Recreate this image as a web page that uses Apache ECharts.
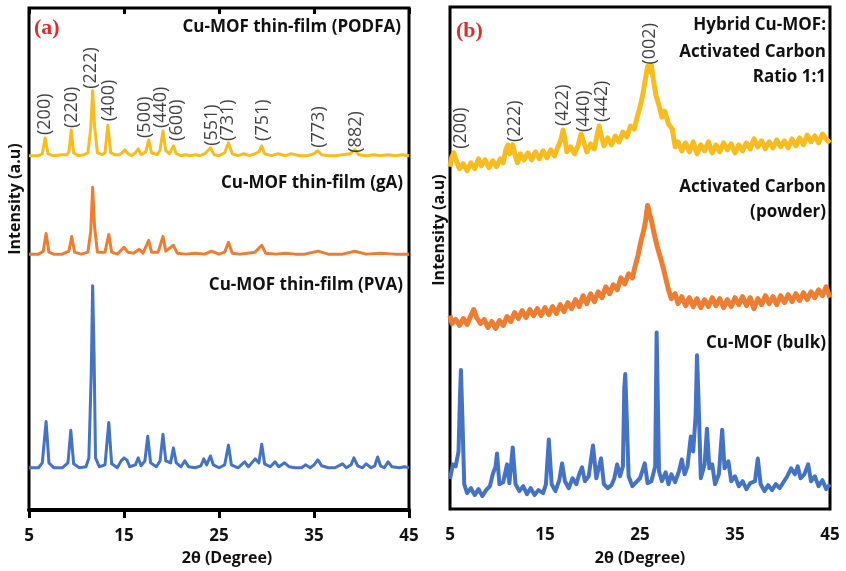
<!DOCTYPE html>
<html><head><meta charset="utf-8">
<script src="https://cdn.jsdelivr.net/npm/echarts@6/dist/echarts.min.js"></script>
<style>html,body{margin:0;padding:0;background:#fff}#c{width:846px;height:571px}</style>
</head><body><div id="c"></div>
<script>
// 2θ tick labels
const xTicks = [5, 15, 25, 35, 45];

// Panel (a): stacked thin-film patterns [2θ, intensity (a.u., offset-stacked)]
const podfa = [[5.0,360],[6.0,360],[6.4,362],[6.7,378],[7.0,362],[7.5,360],[8.5,361],[9.0,361],[9.2,364],[9.45,386],[9.7,363],[10.2,360],[10.8,361],[11.2,363],[11.5,388],[11.7,426],[11.9,390],[12.2,363],[12.7,361],[13.0,363],[13.3,391],[13.6,363],[14.0,361],[14.5,361],[14.8,363],[15.1,366],[15.4,362],[15.8,360],[16.2,363],[16.5,367],[16.8,361],[17.3,364],[17.6,376],[17.9,363],[18.5,361],[18.8,366],[19.1,385],[19.4,365],[19.8,362],[20.2,370],[20.5,362],[21.0,360],[21.5,361],[22.0,360],[22.5,361],[23.0,360],[23.5,362],[24.1,368],[24.5,361],[25.0,360],[25.6,363],[26.0,373],[26.4,362],[27.0,360],[27.6,362],[28.2,360],[28.8,362],[29.2,364],[29.5,370],[29.8,362],[30.5,360],[31.2,362],[32.0,360],[32.6,362],[33.5,360],[34.3,360],[35.0,362],[35.4,365],[35.8,361],[36.5,360],[37.2,360],[38.0,361],[38.8,362],[39.3,366],[39.7,361],[40.5,360],[41.3,361],[42.0,360],[42.8,361],[43.6,360],[44.3,361],[45.0,360]];
const gA = [[5.0,260],[6.0,260],[6.5,263],[6.8,281],[7.1,262],[7.6,260],[8.5,260],[9.2,263],[9.5,278],[9.8,262],[10.5,260],[11.2,262],[11.5,283],[11.7,328],[11.9,288],[12.2,262],[13.0,262],[13.4,280],[13.7,262],[14.3,260],[15.0,267],[15.4,262],[16.0,261],[16.6,265],[17.0,261],[17.6,274],[17.9,262],[18.6,262],[19.1,278],[19.4,263],[20.2,269],[20.6,261],[21.5,260],[22.5,261],[23.5,260],[24.2,263],[25.0,260],[25.6,262],[26.0,272],[26.4,261],[27.2,260],[28.0,261],[28.8,262],[29.5,269],[29.9,261],[31.0,260],[32.0,261],[33.0,260],[34.0,260],[35.4,263],[36.5,260],[38.0,260],[39.3,263],[40.5,260],[42.0,261],[43.5,260],[45.0,260]];
const pva = [[5.0,43],[6.0,43],[6.4,48],[6.8,90],[7.1,48],[7.6,43],[8.5,43],[9.1,48],[9.4,81],[9.7,47],[10.3,43],[11.0,44],[11.3,53],[11.55,138],[11.7,228],[11.85,158],[12.0,53],[12.4,44],[13.0,46],[13.4,89],[13.7,47],[14.3,43],[14.7,50],[15.0,53],[15.3,51],[15.6,44],[16.2,46],[16.5,53],[16.8,45],[17.2,50],[17.5,75],[17.8,48],[18.4,44],[18.8,50],[19.1,77],[19.4,50],[19.9,48],[20.2,63],[20.5,48],[21.0,44],[21.4,50],[21.8,44],[22.5,43],[23.1,45],[23.4,52],[23.7,46],[24.1,55],[24.4,46],[25.0,43],[25.6,46],[26.0,66],[26.3,46],[27.0,43],[27.7,49],[28.1,44],[28.8,52],[29.2,48],[29.5,67],[29.8,47],[30.4,44],[30.9,49],[31.3,44],[31.9,48],[32.4,44],[33.0,43],[33.7,43],[34.1,46],[34.6,43],[35.0,46],[35.4,51],[35.8,45],[36.5,43],[37.2,43],[38.0,47],[38.4,43],[38.9,46],[39.2,53],[39.6,45],[40.1,43],[40.5,47],[41.0,43],[41.4,45],[41.7,54],[42.0,45],[42.4,43],[42.8,49],[43.2,44],[44.0,43],[44.5,44],[45.0,43]];

// Panel (b)
const hybrid = [[5.0,345],[5.2,355],[5.4,359],[5.7,350],[6.0,343],[6.4,348],[6.8,341],[7.2,349],[7.6,343],[8.0,353],[8.3,346],[8.7,352],[9.1,344],[9.5,351],[9.9,345],[10.3,353],[10.6,349],[10.9,363],[11.1,367],[11.3,358],[11.6,367],[11.9,355],[12.1,349],[12.4,358],[12.8,352],[13.2,359],[13.6,352],[14.0,360],[14.4,353],[14.8,361],[15.2,354],[15.6,362],[16.0,356],[16.4,366],[16.7,373],[16.9,382],[17.1,373],[17.3,360],[17.7,365],[18.1,358],[18.5,367],[18.8,378],[19.1,369],[19.4,360],[19.8,368],[20.2,363],[20.5,378],[20.7,386],[20.9,377],[21.2,366],[21.6,374],[22.0,367],[22.4,376],[22.8,370],[23.2,380],[23.6,375],[24.0,386],[24.4,383],[24.7,395],[25.0,405],[25.3,418],[25.6,435],[25.8,446],[26.0,441],[26.2,447],[26.4,433],[26.7,416],[27.0,407],[27.3,395],[27.6,401],[28.0,388],[28.4,383],[28.7,365],[29.0,370],[29.4,361],[29.8,369],[30.2,360],[30.6,370],[31.0,358],[31.4,367],[31.8,361],[32.2,370],[32.6,359],[33.0,367],[33.4,360],[33.8,369],[34.2,362],[34.6,368],[35.0,359],[35.4,367],[35.8,361],[36.2,369],[36.6,363],[37.0,373],[37.4,365],[37.8,371],[38.2,363],[38.6,370],[39.0,364],[39.4,372],[39.8,365],[40.2,371],[40.6,364],[41.0,373],[41.4,366],[41.8,374],[42.2,367],[42.6,377],[43.0,370],[43.4,376],[43.8,369],[44.2,378],[44.6,373],[45.0,369]];
const carbon = [[5.0,195],[5.2,187],[5.6,191],[6.0,185],[6.4,192],[6.8,186],[7.2,195],[7.5,201],[7.8,193],[8.2,187],[8.6,191],[9.0,183],[9.4,189],[9.8,182],[10.2,190],[10.6,185],[11.0,194],[11.4,189],[11.8,198],[12.2,192],[12.6,200],[13.0,193],[13.4,201],[13.8,195],[14.2,202],[14.6,195],[15.0,203],[15.4,196],[15.8,204],[16.2,197],[16.6,206],[17.0,199],[17.4,208],[17.8,202],[18.2,211],[18.6,204],[19.0,215],[19.4,207],[19.8,217],[20.2,209],[20.6,219],[21.0,213],[21.4,224],[21.8,217],[22.2,226],[22.6,221],[23.0,233],[23.4,227],[23.8,237],[24.2,233],[24.5,245],[24.8,256],[25.1,270],[25.4,281],[25.6,291],[25.8,306],[26.0,298],[26.2,291],[26.5,277],[26.8,265],[27.1,255],[27.4,245],[27.7,233],[28.0,221],[28.3,212],[28.7,217],[29.0,207],[29.4,214],[29.8,205],[30.2,213],[30.6,204],[31.0,212],[31.4,203],[31.8,211],[32.2,204],[32.6,213],[33.0,205],[33.4,212],[33.8,203],[34.2,211],[34.6,204],[35.0,213],[35.4,206],[35.8,214],[36.2,205],[36.6,213],[37.0,202],[37.4,212],[37.8,206],[38.2,215],[38.6,207],[39.0,214],[39.4,206],[39.8,215],[40.2,208],[40.6,216],[41.0,209],[41.4,217],[41.8,210],[42.2,218],[42.6,211],[43.0,219],[43.4,213],[43.8,221],[44.2,215],[44.6,224],[45.0,213]];
const bulk = [[5.0,30],[5.3,45],[5.6,43],[5.9,58],[6.05,113],[6.15,140],[6.3,93],[6.5,25],[6.8,16],[7.2,21],[7.6,14],[8.0,20],[8.4,13],[8.8,19],[9.2,23],[9.5,35],[9.8,43],[9.95,56],[10.2,25],[10.6,27],[11.0,45],[11.25,26],[11.6,62],[11.9,25],[12.3,18],[12.7,23],[13.1,15],[13.5,21],[13.9,14],[14.3,19],[14.8,16],[15.1,25],[15.4,70],[15.7,25],[16.1,18],[16.5,29],[16.8,46],[17.1,28],[17.5,21],[17.9,31],[18.3,25],[18.6,35],[18.9,42],[19.2,28],[19.6,33],[20.05,64],[20.4,31],[20.9,51],[21.2,25],[21.6,21],[22.0,24],[22.3,31],[22.6,45],[22.9,33],[23.2,43],[23.35,123],[23.45,136],[23.6,93],[23.8,33],[24.2,23],[24.6,27],[25.0,31],[25.5,46],[25.8,26],[26.2,28],[26.6,43],[26.75,178],[26.85,180],[27.0,38],[27.3,28],[27.7,37],[28.0,25],[28.3,35],[28.7,27],[29.1,38],[29.4,50],[29.7,35],[30.0,43],[30.35,73],[30.6,58],[30.85,93],[31.0,155],[31.15,113],[31.4,31],[31.8,45],[32.05,81],[32.3,41],[32.6,45],[32.9,25],[33.3,35],[33.65,80],[33.9,41],[34.3,48],[34.6,28],[35.0,33],[35.4,23],[35.8,28],[36.2,20],[36.6,26],[37.1,28],[37.4,51],[37.7,25],[38.1,18],[38.5,24],[38.9,19],[39.3,25],[39.7,21],[40.1,27],[40.5,33],[40.9,41],[41.3,35],[41.6,43],[41.9,31],[42.3,35],[42.7,45],[43.0,28],[43.4,33],[43.8,23],[44.2,29],[44.6,20],[45.0,25]];

// Miller-index peak labels: [2θ, intensity at label foot, text]
const hklA = [[6.68,381,'(200)'],[9.53,388,'(220)'],[11.53,428,'(222)'],[13.42,395,'(400)'],[17.21,378,'(500)'],[18.89,388,'(440)'],[20.58,375,'(600)'],[24.26,370,'(551)'],[25.95,375,'(731)'],[29.63,375,'(751)'],[35.53,368,'(773)'],[39.42,363,'(882)']];
const hklB = [[6.16,363,'(200)'],[11.84,370,'(222)'],[16.89,386,'(422)'],[19.11,380,'(440)'],[21.0,390,'(442)'],[26.05,448,'(002)']];

const FONT = '"Open Sans", "DejaVu Sans", sans-serif';
const YEL = '#F9BC1E', ORA = '#ED7D31', BLU = '#4472C4';

const chart = echarts.init(document.getElementById('c'), null, {renderer: 'canvas'});

function lineSeries(name, data, color, width, xi, yi) {
  return {name, type: 'line', data, xAxisIndex: xi, yAxisIndex: yi, showSymbol: false, symbol: 'none',
    lineStyle: {color, width, join: 'round'}, z: 2, silent: true};
}
function hklSeries(data, xi, yi) {
  return {type: 'scatter', xAxisIndex: xi, yAxisIndex: yi, symbolSize: 0, data, z: 5, silent: true,
    label: {show: true, position: [0, 0], rotate: 90, align: 'left', verticalAlign: 'middle',
      formatter: p => p.value[2], fontFamily: FONT, fontSize: 18, color: '#111'}};
}
const xLabel = {fontFamily: FONT, fontWeight: 'bold', fontSize: 17, color: '#111', showMinLabel: true, showMaxLabel: true};
const nameStyle = {fontFamily: FONT, fontWeight: 'bold', fontSize: 16, color: '#111'};

function txt(text, x, y, align, extra) {
  return Object.assign({type: 'text', x, y, silent: true, style: {text, align, verticalAlign: 'middle', textAlign: align, textVerticalAlign: 'middle',
    font: 'bold 17px ' + FONT, fill: '#111'}}, extra || {});
}
const redStyle = t => ({style: {text: t, align: 'left', verticalAlign: 'middle', textAlign: 'left', textVerticalAlign: 'middle', font: 'bold 22px "Liberation Serif", serif', fill: '#D9302C'}});

chart.setOption({
  animation: false,
  backgroundColor: '#fff',
  grid: [
    {left: 29, top: 8, width: 380, height: 510, show: true, borderColor: '#000', borderWidth: 3, backgroundColor: 'transparent'},
    {left: 450, top: 7, width: 380, height: 506, show: true, borderColor: '#000', borderWidth: 3, backgroundColor: 'transparent'}
  ],
  xAxis: [
    {gridIndex: 0, type: 'value', min: xTicks[0], max: xTicks[xTicks.length - 1], interval: 10,
      axisLine: {show: true, lineStyle: {color: '#000', width: 4}},
      axisTick: {show: true, inside: false, length: 8, lineStyle: {color: '#000', width: 3}},
      axisLabel: Object.assign({margin: 18}, xLabel), splitLine: {show: false},
      name: '2θ (Degree)', nameLocation: 'middle', nameGap: 39, nameTextStyle: Object.assign({padding: [0, 0, 0, 16]}, nameStyle)},
    {gridIndex: 0, type: 'value', min: xTicks[0], max: xTicks[xTicks.length - 1], interval: 10,
      axisLine: {show: false}, axisLabel: {show: false}, splitLine: {show: false},
      axisTick: {show: true, inside: true, length: 6, lineStyle: {color: '#000', width: 3}}},
    {gridIndex: 1, type: 'value', min: xTicks[0], max: xTicks[xTicks.length - 1], interval: 10,
      axisLine: {show: false}, axisTick: {show: false},
      axisLabel: Object.assign({margin: 18}, xLabel), splitLine: {show: false},
      name: '2θ (Degree)', nameLocation: 'middle', nameGap: 41, nameTextStyle: nameStyle}
  ],
  yAxis: [
    {gridIndex: 0, type: 'value', min: 0, max: 510, axisLine: {show: false}, axisTick: {show: false},
      axisLabel: {show: false}, splitLine: {show: false},
      name: 'Intensity (a.u)', nameLocation: 'middle', nameGap: 6, nameTextStyle: Object.assign({padding: [0, 0, 0, 120]}, nameStyle)},
    {gridIndex: 1, type: 'value', min: 0, max: 506, axisLine: {show: false}, axisTick: {show: false},
      axisLabel: {show: false}, splitLine: {show: false},
      name: 'Intensity (a.u)', nameLocation: 'middle', nameGap: 3, nameTextStyle: Object.assign({padding: [0, 0, 0, 56]}, nameStyle)}
  ],
  series: [
    lineSeries('Cu-MOF thin-film (PODFA)', podfa, YEL, 3, 0, 0),
    lineSeries('Cu-MOF thin-film (gA)', gA, ORA, 3, 0, 0),
    lineSeries('Cu-MOF thin-film (PVA)', pva, BLU, 3, 0, 0),
    lineSeries('Hybrid Cu-MOF: Activated Carbon Ratio 1:1', hybrid, YEL, 5, 2, 1),
    lineSeries('Activated Carbon (powder)', carbon, ORA, 5, 2, 1),
    lineSeries('Cu-MOF (bulk)', bulk, BLU, 4, 2, 1),
    hklSeries(hklA, 0, 0),
    hklSeries(hklB, 2, 1)
  ],
  graphic: [
    txt('(a)', 34, 28, 'left', redStyle('(a)')),
    txt('(b)', 456, 31, 'left', redStyle('(b)')),
    txt('Cu-MOF thin-film (PODFA)', 401, 27, 'right'),
    txt('Cu-MOF thin-film (gA)', 403, 183, 'right'),
    txt('Cu-MOF thin-film (PVA)', 403, 285, 'right'),
    txt('Hybrid Cu-MOF:', 826, 25, 'right'),
    txt('Activated Carbon', 826, 52, 'right'),
    txt('Ratio 1:1', 826, 77, 'right'),
    txt('Activated Carbon', 826, 187, 'right'),
    txt('(powder)', 826, 212, 'right'),
    txt('Cu-MOF (bulk)', 826, 343, 'right')
  ]
});
</script></body></html>
